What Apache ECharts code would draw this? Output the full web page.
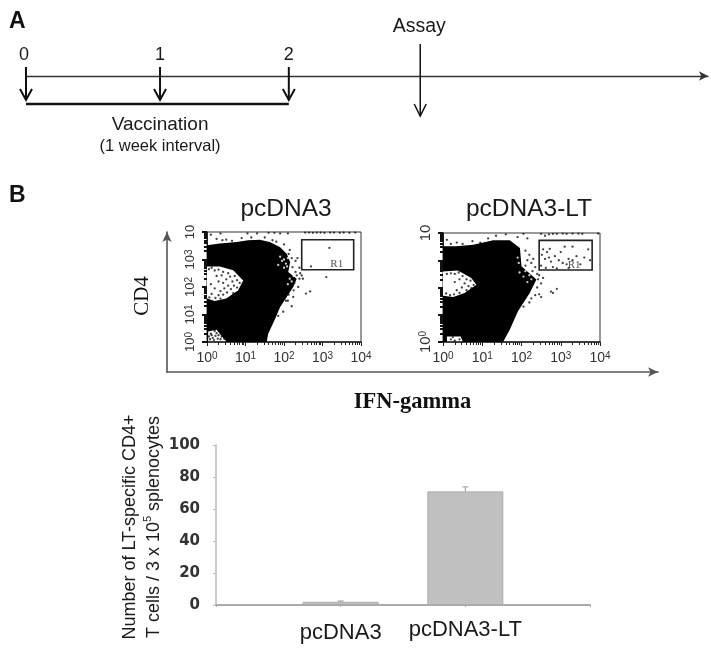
<!DOCTYPE html>
<html><head><meta charset="utf-8">
<style>html,body{margin:0;padding:0;background:#fff}#c{width:711px;height:652px}</style>
<script src="https://cdn.jsdelivr.net/npm/echarts@6/dist/echarts.min.js"></script>
</head><body><div id="c"></div>
<script>
// Panel A: timeline
const vaccinationWeeks = [0, 1.02, 2];
const assayWeeks = [3];
// Panel B: bars
const barCategories = ['', 'pcDNA3', 'pcDNA3-LT', ' '];
const barMeans = ['-', 2, 71, '-'];
const barErrors = [null, 0.5, 2.8, null];
const barTicks = [0, 20, 40, 60, 80, 100];
// Panel B: flow plots, all pairs are [log10 IFN-gamma, log10 CD4]
const blobLeft = [[0,0],[0,3.52],[.33,3.58],[.77,3.64],[1.07,3.7],[1.37,3.72],[1.63,3.64],[1.9,3.45],[2.07,3.21],[2.16,2.91],[2.11,2.55],[2.33,2.3],[2.24,2],[2.07,1.64],[1.9,1.27],[1.77,.85],[1.59,.3],[1.55,0]];
const holeLeft = [[0,2.75],[.33,2.75],[.68,2.61],[.94,2.24],[.81,1.88],[.5,1.58],[.2,1.49],[0,1.58]];
const lowerHoleLeft = [[.03,.38],[.25,.45],[.42,.15],[.5,.03],[.03,.03]];
const gateLeft = [[2.46,2.63],[3.81,3.72]];
const gateLabelLeft = [3.37,2.82];
const whiteSpecksLeft = [[2,3],[2.05,2.85],[1.95,2.95],[2.1,3.05],[2,2.7],[2.08,2.75],[2.25,2.4],[2.2,2.2],[2.15,2.3],[2.1,2.1],[1.9,3.1],[1.85,2.8]];
const dotsLeft = [[.05,2.65],[.12,2.7],[.2,2.6],[.3,2.63],[.42,2.55],[.55,2.5],[.38,2.42],[.25,2.4],[.6,2.38],[.72,2.4],[.78,2.25],[.66,2.2],[.5,2.28],[.42,2.15],[.3,2.2],[.55,2.05],[.7,2.05],[.78,1.98],[.62,1.92],[.45,1.95],[.35,1.85],[.2,1.95],[.12,1.75],[.3,1.7],[.42,1.72],[.52,1.8],[.06,1.62],[.22,1.6],[.35,1.58],[.68,1.78],[.85,2.15],[.1,2.1],
 [3.18,3.42],[2.7,2.75],[3.1,2.36],[2.68,1.84],[2.57,1.76],[2.37,2],[2.24,1.64],[2.46,2.42],[2.49,2.3],[2.42,2.5],[2.3,2.55],[2.22,2.72],[2.3,2.95],[2.2,3.05],[2.12,3.2],[2.35,3.05],[2.4,2.7],[2.15,3.35],[2,3.55],[1.8,3.65],[1.7,3.7],[2.4,2.3],[2.33,2.42],[2.27,2.15],[2.25,1.88],[2.12,1.72],[2.05,1.5],
 [.1,3.9],[.25,3.75],[.4,3.7],[.35,3.95],[.5,3.72],[.65,3.68],[.9,3.78],[1.05,3.95],[1.15,3.8],[1.3,3.95],[1.5,3.8],[1.6,3.97],[1.75,3.97],[1.9,3.95],[2.1,3.95],[2.55,3.98],[2.65,3.98],[2.75,3.97],[2.85,3.98],[2.95,3.98],[3.05,3.97],[3.2,3.98],[3.3,3.98],[3.45,3.97],[3.55,3.98],[3.7,3.97],[3.85,3.98],
 [2.2,1.3],[2.1,1.5],[1.98,1.1],[1.85,.95],[.1,.3],[.2,.4],[.3,.25],[.15,.15],[.35,.1],[.45,.12],[.08,.1],[.12,.25],[.22,.22],[.28,.12],[.38,.2],[.05,.2],[.18,.07],[.25,.32]];
const blobRight = [[0,0],[0,3.51],[.34,3.51],[.77,3.57],[1.28,3.73],[1.7,3.73],[1.96,3.45],[2,2.78],[2.38,2.29],[2.21,1.8],[1.91,1.13],[1.7,.45],[1.53,0]];
const holeRight = [[0,2.59],[.38,2.62],[.72,2.35],[.85,2.1],[.55,1.8],[.26,1.65],[0,1.7]];
const lowerHoleRight = [[.1,.2],[.45,.2],[.5,.03],[.1,.03]];
const gateRight = [[2.45,2.64],[3.8,3.73]];
const gateLabelRight = [3.34,2.84];
const whiteSpecksRight = [[2.1,2.6],[2.2,2.45],[2.25,2.3],[2.15,2.2],[2.05,2.4],[1.95,2.55],[1.9,3.1],[1.93,2.9]];
const dotsRight = [[.3,2.5],[.4,2.55],[.5,2.42],[.6,2.3],[.7,2.25],[.78,2.1],[.65,2.05],[.55,2.15],[.42,2.3],[.48,2],[.35,1.9],[.6,1.9],[.28,1.75],[.18,1.72],[.08,1.78],[.42,1.8],[.72,1.98],[.2,2.52],[.1,2.5],[.3,2.2],
 [2.55,3.4],[2.65,3.3],[2.6,3.05],[2.7,3.1],[2.75,2.95],[2.85,3.15],[2.95,3],[3,3.3],[3.05,2.9],[3.15,2.85],[3.2,3.05],[3.3,3],[3.4,3.15],[3.5,2.85],[3.6,3.1],[3.7,3.4],[3.75,3],[2.5,2.8],[2.62,2.72],[2.8,2.75],[2.9,2.7],[3.1,3.5],[3.3,3.5],[2.52,3.2],[2.72,3.42],[3.2,2.72],
 [2.1,3.35],[2.2,3.2],[2.3,3.05],[2.15,3],[2.25,2.9],[2.35,2.75],[2.1,2.8],[2.4,2.5],[2.45,2.45],[2.28,2.6],[2.42,2.3],[2.55,2.35],[2.5,2.15],[2.4,2],[2.35,1.72],[2.25,1.6],[2.45,1.75],[2.5,1.65],[2.2,1.45],[2.05,1.3],[2.9,1.95],[2.8,1.8],[2.75,1.85],
 [.1,3.75],[.2,3.6],[.35,3.65],[.5,3.6],[.75,3.7],[.95,3.65],[1.15,3.8],[1.35,3.9],[1.6,3.95],[1.9,3.85],[2.05,3.97],[2.15,3.8],[2.5,3.97],[2.6,3.9],[2.7,3.95],[2.8,3.97],[2.9,3.97],[3.05,3.98],[3.15,3.97],[3.3,3.98],[3.45,3.98],[3.55,3.97],[3.95,3.98],
 [.2,.1],[.3,.05],[.42,.1],[.25,.18]];

const AXIS = '#222';
const fromLog = p => [Math.pow(10, p[0]), Math.pow(10, p[1])];
const sup = {fontSize: 10, verticalAlign: 'top', padding: [0,0,6,0], color: '#333', lineHeight: 10};
const xFmt = v => { const n=Math.round(Math.log10(v)); return Math.abs(Math.log10(v)-n)>1e-6 ? '' : '10{s|'+n+'}'; };
const yLeftFmt = v => { const n=Math.round(Math.log10(v)); if(Math.abs(Math.log10(v)-n)>1e-6) return ''; return n===4?'10':'10{s|'+n+'}'; };
const yRightFmt = v => { const n=Math.round(Math.log10(v)); if(Math.abs(Math.log10(v)-n)>1e-6) return ''; return n===4?'10':(n===0?'10{s|0}':''); };
function flowAxes(gridIndex, yFmt, yFont) {
  return {
    x: {type:'log', logBase:10, gridIndex, min:1, max:10000, splitLine:{show:false},
        axisLine:{lineStyle:{color:AXIS,width:1.5}}, axisTick:{length:4,lineStyle:{color:AXIS}},
        minorTick:{show:true,length:3,splitNumber:9,lineStyle:{color:AXIS}},
        axisLabel:{margin:9,fontFamily:'Liberation Sans',fontSize:14,color:'#333',rich:{s:sup},hideOverlap:false,showMinLabel:true,showMaxLabel:true,formatter:xFmt}},
    y: {type:'log', logBase:10, gridIndex, min:1, max:10000, splitLine:{show:false},
        axisLine:{lineStyle:{color:AXIS,width:1}}, axisTick:{length:5,lineStyle:{color:'#111',width:2}},
        minorTick:{show:true,length:3,splitNumber:9,lineStyle:{color:'#111',width:2}},
        axisLabel:{margin:10,rotate:90,fontFamily:'Liberation Sans',fontSize:yFont,color:'#333',rich:{s:sup},hideOverlap:false,showMinLabel:true,showMaxLabel:true,formatter:yFmt}}
  };
}
const L = flowAxes(1, yLeftFmt, 13), R = flowAxes(2, yRightFmt, 15);

function polygon(points, fill) {
  return (p, api) => ({type:'polygon', shape:{points: points.map(q => api.coord(fromLog(q)))}, style:{fill}, silent:true});
}
function gate(box, labelAt) {
  return (p, api) => {
    const a = api.coord(fromLog(box[0])), b = api.coord(fromLog(box[1])), t = api.coord(fromLog(labelAt));
    return {type:'group', children:[
      {type:'rect', shape:{x:a[0], y:b[1], width:b[0]-a[0], height:a[1]-b[1]}, style:{fill:'none', stroke:'#222', lineWidth:1.6}},
      {type:'text', style:{x:t[0], y:t[1], text:'R1', fill:'#555', font:'11px "Liberation Serif"', align:'center', verticalAlign:'middle'}}
    ]};
  };
}
const flowSeries = (gi, blob, hole, lower, dots, white, box, lab) => [
  {type:'custom', xAxisIndex:gi, yAxisIndex:gi, data:[0], z:2, renderItem:polygon(blob,'#000')},
  {type:'custom', xAxisIndex:gi, yAxisIndex:gi, data:[0], z:3, renderItem:polygon(hole,'#fff')},
  {type:'custom', xAxisIndex:gi, yAxisIndex:gi, data:[0], z:3, renderItem:polygon(lower,'#fff')},
  {type:'scatter', xAxisIndex:gi, yAxisIndex:gi, z:4, symbolSize:2.3, itemStyle:{color:'#fff'}, data:white.map(fromLog), silent:true},
  {type:'scatter', xAxisIndex:gi, yAxisIndex:gi, z:4, symbolSize:2.3, itemStyle:{color:'#111'}, data:dots.map(fromLog), silent:true},
  {type:'custom', xAxisIndex:gi, yAxisIndex:gi, data:[0], z:5, renderItem:gate(box, lab)}
];
function arrow(x, y0, y1, lineWidth, headW, headH) {
  return [
    {type:'line', shape:{x1:x,y1:y0,x2:x,y2:y1}, style:{stroke:'#111',lineWidth}},
    {type:'polyline', shape:{points:[[x-headW,y1-headH],[x,y1],[x+headW,y1-headH]]}, style:{stroke:'#111',lineWidth,fill:'none'}}
  ];
}
const txt = (x,y,text,font) => ({type:'text', style:{x,y,text,font,fill:'#1a1a1a',align:'center',verticalAlign:'middle'}});

const option = {
  animation:false, backgroundColor:'#fff',
  title:[
    {text:'pcDNA3', left:281, top:192, textAlign:'center', textStyle:{fontFamily:'Liberation Sans',fontWeight:'normal',fontSize:24.5,color:'#1a1a1a'}},
    {text:'pcDNA3-LT', left:524, top:192, textAlign:'center', textStyle:{fontFamily:'Liberation Sans',fontWeight:'normal',fontSize:24.5,color:'#1a1a1a'}},
    {text:'A', left:4, top:5, textStyle:{fontFamily:'Liberation Sans',fontWeight:'bold',fontSize:23,color:'#111'}},
    {text:'B', left:4, top:179, textStyle:{fontFamily:'Liberation Sans',fontWeight:'bold',fontSize:23,color:'#111'}}
  ],
  grid:[
    {left:167, top:232, width:491, height:140},
    {left:207, top:232, width:154, height:110, show:true, borderColor:'#333', borderWidth:1, backgroundColor:'transparent'},
    {left:443, top:233, width:157, height:109, show:true, borderColor:'#333', borderWidth:1, backgroundColor:'transparent'},
    {left:216, top:445, width:374, height:160},
    {left:26, top:75, width:682, height:1}
  ],
  xAxis:[
    {type:'value', gridIndex:0, min:0, max:1, axisLabel:{show:false}, axisTick:{show:false}, splitLine:{show:false},
     axisLine:{show:true,lineStyle:{color:'#555',width:1.6},symbol:['none','arrow'],symbolSize:[7,10]},
     name:'IFN-gamma', nameLocation:'middle', nameGap:19,
     nameTextStyle:{fontFamily:'Liberation Serif',fontWeight:'bold',fontSize:22.5,color:'#111'}},
    L.x, R.x,
    {type:'category', gridIndex:3, boundaryGap:false,
     data:[{value:barCategories[0]},{value:barCategories[1],textStyle:{padding:[3,0,0,0]}},{value:barCategories[2],textStyle:{padding:[0,0,3,0]}},{value:barCategories[3]}],
     axisLine:{lineStyle:{color:'#aaa',width:2}}, axisTick:{length:2,lineStyle:{color:'#aaa'}},
     axisLabel:{interval:0,margin:14,fontFamily:'Liberation Sans',fontSize:22,color:'#1a1a1a'}},
    {type:'value', gridIndex:4, min:0, max:5.19, axisLabel:{show:false}, axisTick:{show:false}, splitLine:{show:false},
     axisLine:{show:true,lineStyle:{color:'#333',width:1.3},symbol:['none','arrow'],symbolSize:[7,9]}}
  ],
  yAxis:[
    {type:'value', gridIndex:0, min:0, max:1, axisLabel:{show:false}, axisTick:{show:false}, splitLine:{show:false},
     axisLine:{show:true,lineStyle:{color:'#555',width:1.6},symbol:['none','arrow'],symbolSize:[7,10]},
     name:'CD4', nameLocation:'middle', nameRotate:90, nameGap:14,
     nameTextStyle:{fontFamily:'Liberation Serif',fontSize:21,color:'#111',padding:[0,0,0,12]}},
    L.y, R.y,
    {type:'value', gridIndex:3, min:0, max:100, interval:20, splitLine:{show:false},
     axisLine:{show:true,lineStyle:{color:'#bbb',width:1.5}}, axisTick:{show:true,length:3,lineStyle:{color:'#bbb'}},
     axisLabel:{margin:16,fontFamily:'DejaVu Sans',fontWeight:'bold',fontSize:15,color:'#333',
       formatter:v => barTicks.includes(v) ? String(v) : ''},
     name:'Number of LT-specific CD4+\nT cells / 3 x 10{s|5} splenocytes', nameLocation:'middle', nameRotate:90, nameGap:50, nameMoveOverlap:false,
     nameTextStyle:{fontFamily:'Liberation Sans',fontSize:18,color:'#1a1a1a',lineHeight:24,padding:[0,4,0,0],rich:{s:{fontFamily:'Liberation Sans',fontSize:11,verticalAlign:'top',lineHeight:12,color:'#1a1a1a'}}}},
    {type:'value', gridIndex:4, min:0, max:1, show:false, splitLine:{show:false}}
  ],
  series:[
    ...flowSeries(1, blobLeft, holeLeft, lowerHoleLeft, dotsLeft, whiteSpecksLeft, gateLeft, gateLabelLeft),
    ...flowSeries(2, blobRight, holeRight, lowerHoleRight, dotsRight, whiteSpecksRight, gateRight, gateLabelRight),
    {type:'bar', xAxisIndex:3, yAxisIndex:3, data:barMeans, barWidth:76, itemStyle:{color:'#c0c0c0',borderColor:'#aaa',borderWidth:1}},
    {type:'custom', xAxisIndex:3, yAxisIndex:3, z:3, data:barMeans.map((m,i)=>[i,m,barErrors[i]]).filter(d=>d[2]!==null),
     renderItem:(p,api)=>{
       const i=api.value(0), m=api.value(1), e=api.value(2);
       const a=api.coord([i,m]), b=api.coord([i,m+e]);
       return {type:'group',children:[
         {type:'line',shape:{x1:a[0],y1:a[1],x2:b[0],y2:b[1]},style:{stroke:'#999',lineWidth:1}},
         {type:'line',shape:{x1:a[0]-3,y1:b[1],x2:a[0]+3,y2:b[1]},style:{stroke:'#999',lineWidth:1}}
       ]};
     }},
    {type:'custom', xAxisIndex:4, yAxisIndex:4, data:vaccinationWeeks, renderItem:(p,api)=>{
       const w=vaccinationWeeks[p.dataIndex], c=api.coord([w,0]);
       const n=['0','1','2'][p.dataIndex];
       return {type:'group',children:[...arrow(c[0],c[1]-9,c[1]+24,2,6,11), txt(c[0]-(p.dataIndex===0?2:0),c[1]-21,n,'18px "Liberation Sans"')]};
     }},
    {type:'custom', xAxisIndex:4, yAxisIndex:4, data:assayWeeks, renderItem:(p,api)=>{
       const c=api.coord([assayWeeks[p.dataIndex],0]);
       return {type:'group',children:[...arrow(c[0],c[1]-32,c[1]+40,1.5,6,12), txt(c[0]-1,c[1]-49,'Assay','19.5px "Liberation Sans"')]};
     }},
    {type:'custom', xAxisIndex:4, yAxisIndex:4, data:[0], renderItem:(p,api)=>{
       const a=api.coord([vaccinationWeeks[0],0]), b=api.coord([vaccinationWeeks[2],0]), m=api.coord([vaccinationWeeks[1],0]);
       return {type:'group',children:[
         {type:'line',shape:{x1:a[0],y1:a[1]+28,x2:b[0],y2:b[1]+28},style:{stroke:'#111',lineWidth:2.6}},
         txt(m[0],m[1]+49,'Vaccination','19px "Liberation Sans"'),
         txt(m[0],m[1]+70,'(1 week interval)','16.5px "Liberation Sans"')
       ]};
     }}
  ]
};
const chart = echarts.init(document.getElementById('c'), null, {renderer:'canvas'});
chart.setOption(option);
</script></body></html>
